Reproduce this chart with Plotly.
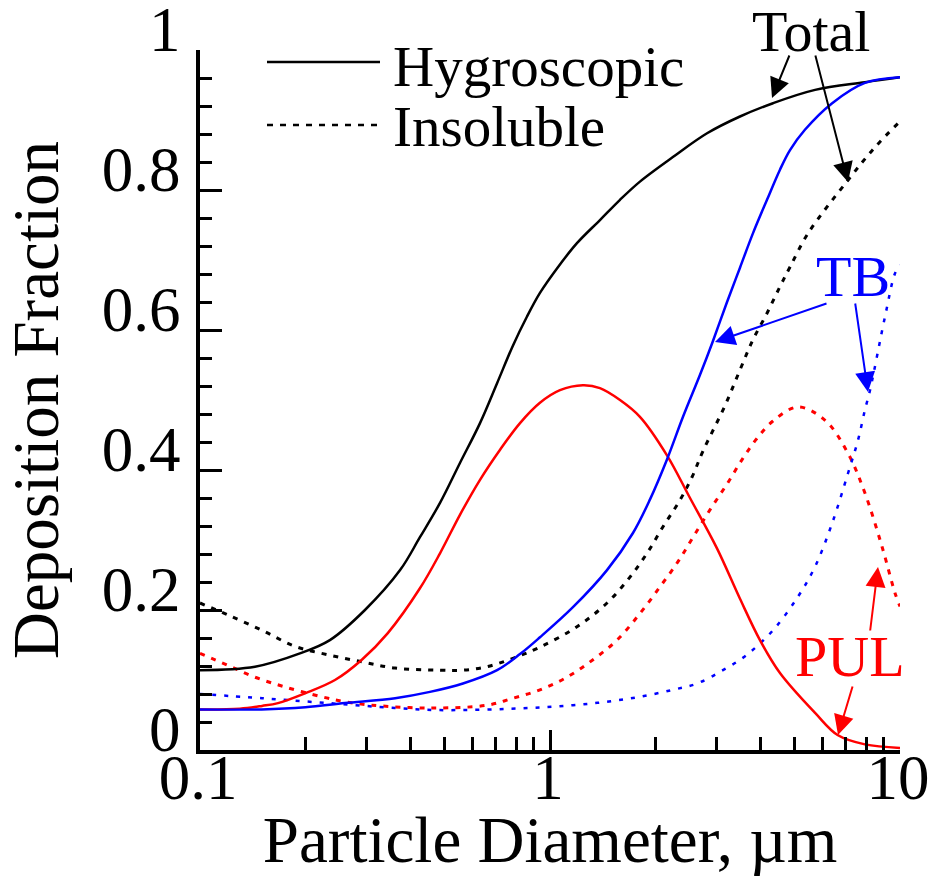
import plotly.graph_objects as go

# ---------------- data (particle diameter in µm, deposition fraction) ----------------
# Hygroscopic particles (solid lines)
hyg_total_d = [0.1, 0.1436, 0.193, 0.235, 0.296, 0.373, 0.425, 0.485, 0.553, 0.631, 0.706,
               0.784, 0.859, 0.936, 1.047, 1.194, 1.389, 1.585, 1.807, 2.244, 2.81, 3.49, 4.336,
               5.72, 7.94, 10]
hyg_total_y = [0.114, 0.119, 0.138, 0.157, 0.200, 0.257, 0.304, 0.353, 0.410, 0.467, 0.524,
               0.578, 0.619, 0.653, 0.688, 0.724, 0.757, 0.786, 0.812, 0.847, 0.881, 0.905, 0.924,
               0.943, 0.954, 0.961]

hyg_pul_d = [0.1, 0.13, 0.1504, 0.167, 0.1995, 0.243, 0.290, 0.344, 0.425, 0.485, 0.553, 0.631,
             0.720, 0.821, 0.936, 1.068, 1.242, 1.389, 1.585, 1.807, 2.159, 2.512, 3.0, 3.49, 3.98,
             4.54, 5.72, 6.65, 7.94, 10]
hyg_pul_y = [0.058, 0.059, 0.063, 0.067, 0.081, 0.100, 0.129, 0.167, 0.231, 0.281, 0.336, 0.386,
             0.429, 0.467, 0.496, 0.514, 0.521, 0.517, 0.500, 0.476, 0.421, 0.360, 0.288, 0.216, 0.157,
             0.110, 0.053, 0.021, 0.008, 0.003]

hyg_tb_d = [0.1, 0.15, 0.2, 0.2595, 0.361, 0.454, 0.564, 0.706, 0.821, 0.936, 1.163, 1.455,
            1.726, 1.931, 2.159, 2.399, 2.683, 2.92, 3.205, 3.49, 3.80, 4.169, 4.54, 4.85, 5.35, 6.40,
            7.94, 10]
hyg_tb_y = [0.058, 0.058, 0.061, 0.067, 0.074, 0.083, 0.095, 0.114, 0.137, 0.161, 0.204, 0.257,
            0.310, 0.358, 0.415, 0.476, 0.536, 0.584, 0.640, 0.689, 0.738, 0.786, 0.829, 0.857, 0.886,
            0.924, 0.953, 0.961]

# Insoluble particles (dotted lines)
ins_total_d = [0.1, 0.120, 0.1504, 0.187, 0.232, 0.290, 0.361, 0.485, 0.564, 0.661, 0.784,
               0.936, 1.194, 1.455, 1.692, 1.893, 2.103, 2.352, 2.546, 2.736, 3.162, 3.49, 3.80,
               4.169, 4.54, 4.85, 5.46, 7.10, 8.48, 10]
ins_total_y = [0.210, 0.193, 0.171, 0.148, 0.136, 0.126, 0.117, 0.114, 0.114, 0.119, 0.131,
               0.147, 0.176, 0.210, 0.247, 0.281, 0.319, 0.357, 0.390, 0.427, 0.492, 0.543, 0.586,
               0.624, 0.662, 0.690, 0.738, 0.814, 0.861, 0.898]

ins_pul_d = [0.1, 0.12, 0.1436, 0.175, 0.223, 0.2595, 0.31, 0.454, 0.661, 0.784, 0.936, 1.118, 1.327,
             1.554, 1.807, 2.061, 2.321, 2.563, 2.864, 3.205, 3.56, 3.90, 4.336, 5.11, 6.11, 7.10,
             7.94, 8.89, 9.68, 10]
ins_pul_y = [0.138, 0.121, 0.104, 0.090, 0.076, 0.069, 0.064, 0.060, 0.064, 0.074, 0.086, 0.104, 0.129,
             0.157, 0.195, 0.233, 0.269, 0.304, 0.343, 0.380, 0.417, 0.445, 0.470, 0.490, 0.471, 0.424,
             0.367, 0.290, 0.224, 0.205]

ins_tb_d = [0.1, 0.1504, 0.232, 0.361, 0.485, 0.877, 1.163, 1.455, 1.807, 2.244, 2.632, 3.119, 3.652,
            4.336, 5.11, 5.72, 6.40, 7.10, 7.59, 7.94, 8.21, 9.06, 9.68, 10]
ins_tb_y = [0.080, 0.074, 0.067, 0.060, 0.057, 0.060, 0.064, 0.069, 0.076, 0.086, 0.095, 0.114, 0.136,
            0.171, 0.219, 0.262, 0.324, 0.395, 0.443, 0.486, 0.514, 0.619, 0.681, 0.693]

x_tick_vals = [0.1, 1, 10]
x_tick_text = ["0.1", "1", "10"]

FONT = "Liberation Serif, Times New Roman, serif"
BLACK, RED, BLUE = "#000000", "#ff0000", "#0000ff"
DOT = "5px,7px"

fig = go.Figure()

def add(xs, ys, color, dash, width, name):
    fig.add_trace(go.Scatter(x=xs, y=ys, mode="lines", name=name, showlegend=False,
                             line=dict(color=color, width=width, dash=dash,
                                       shape="spline", smoothing=1.0)))

add(ins_total_d, ins_total_y, BLACK, DOT, 3, "Insoluble Total")
add(ins_pul_d, ins_pul_y, RED, DOT, 3, "Insoluble PUL")
add(ins_tb_d, ins_tb_y, BLUE, "4px,8px", 2.5, "Insoluble TB")
add(hyg_total_d, hyg_total_y, BLACK, "solid", 2.5, "Hygroscopic Total")
add(hyg_pul_d, hyg_pul_y, RED, "solid", 2.5, "Hygroscopic PUL")
add(hyg_tb_d, hyg_tb_y, BLUE, "solid", 2.5, "Hygroscopic TB")

# ---------------- layout geometry ----------------
L, R, T, B = 200, 30, 50, 126
W, H = 930, 876
PW, PH = W - L - R, H - T - B

def px(x):  # pixel -> paper x
    return (x - L) / PW

def py(y):  # pixel -> paper y
    return (H - B - y) / PH

shapes = []
annotations = []

# manual legend
shapes.append(dict(type="line", xref="paper", yref="paper", x0=px(267), x1=px(380), y0=py(62), y1=py(62),
                   line=dict(color=BLACK, width=2.5)))
shapes.append(dict(type="line", xref="paper", yref="paper", x0=px(267), x1=px(380), y0=py(125), y1=py(125),
                   line=dict(color=BLACK, width=2.5, dash="6px,7px")))
annotations.append(dict(text="Hygroscopic", xref="paper", yref="paper", x=px(391), y=py(66),
                        xanchor="left", yanchor="middle", showarrow=False,
                        font=dict(family=FONT, size=57, color=BLACK)))
annotations.append(dict(text="Insoluble", xref="paper", yref="paper", x=px(391), y=py(127),
                        xanchor="left", yanchor="middle", showarrow=False,
                        font=dict(family=FONT, size=57, color=BLACK)))

# labels
for txt, cx, cy, col in [("Total", 811, 32, BLACK), ("TB", 853, 276, BLUE), ("PUL", 850, 656, RED)]:
    annotations.append(dict(text=txt, xref="paper", yref="paper", x=px(cx), y=py(cy),
                            xanchor="center", yanchor="middle", showarrow=False,
                            font=dict(family=FONT, size=58, color=col)))

# arrows: (tail px, tail py, tip px, tip py, color)
arrows = [(790, 54, 772, 98, BLACK), (815, 54, 848, 182, BLACK),
          (828, 303, 715, 342, BLUE), (855, 302, 868, 392, BLUE),
          (870, 632, 878, 567, RED), (853, 685, 838, 735, RED)]
for tx, ty, hx, hy, col in arrows:
    annotations.append(dict(text="", xref="paper", yref="paper", x=px(hx), y=py(hy),
                            ax=tx - hx, ay=ty - hy, axref="pixel", ayref="pixel",
                            showarrow=True, arrowhead=2, arrowsize=2, arrowwidth=2,
                            arrowcolor=col, standoff=0, startstandoff=0))

tick_font = dict(family=FONT, size=63, color=BLACK)
title_font = dict(family=FONT, size=65, color=BLACK)

fig.update_layout(
    width=W, height=H,
    margin=dict(l=L, r=R, t=T, b=B, autoexpand=False),
    paper_bgcolor="white", plot_bgcolor="white",
    shapes=shapes, annotations=annotations,
    showlegend=False,
    xaxis=dict(type="log", range=[-1, 1], tickmode="array", tickvals=x_tick_vals, ticktext=x_tick_text,
               ticks="inside", ticklen=20, tickwidth=3, tickcolor=BLACK, automargin=False,
               showline=True, linewidth=4, linecolor=BLACK, showgrid=False, zeroline=False,
               tickfont=tick_font, ticklabelshift=-2, ticklabelstandoff=-31, ticklabeloverflow="allow",
               minor=dict(dtick="D1", ticks="inside", ticklen=13, tickwidth=3, tickcolor=BLACK, showgrid=False),
               title=dict(text="Particle Diameter, µm", font=title_font, standoff=22)),
    yaxis=dict(range=[0, 1], dtick=0.2, ticks="inside", ticklen=22, tickwidth=3, tickcolor=BLACK,
               automargin=False,
               showline=True, linewidth=4, linecolor=BLACK, showgrid=False, zeroline=False,
               tickfont=tick_font, ticklabelshift=-21, ticklabelstandoff=3, ticklabeloverflow="allow",
               minor=dict(dtick=0.04, ticks="inside", ticklen=12, tickwidth=3, tickcolor=BLACK, showgrid=False),
               title=dict(text="Deposition Fraction", font=title_font, standoff=37)),
)

fig.write_html("out.html", config={"displayModeBar": False},
               post_script="document.body.style.margin='0';")
